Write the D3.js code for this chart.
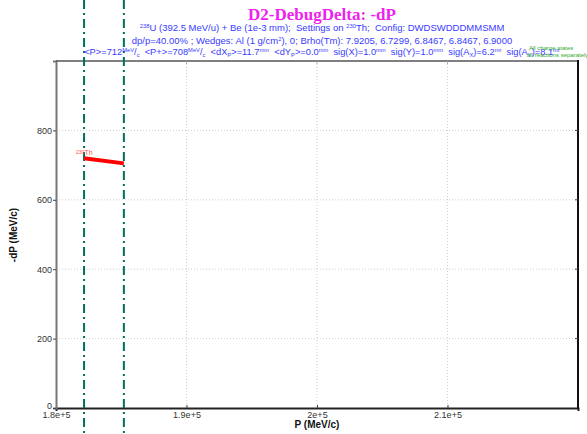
<!DOCTYPE html>
<html>
<head>
<meta charset="utf-8">
<script src="https://cdn.jsdelivr.net/npm/d3@7"></script>
<style>
  html, body { margin: 0; padding: 0; background: #fff; }
  svg { display: block; font-family: "Liberation Sans", Arial, sans-serif; }
</style>
</head>
<body>
<svg id="chart" width="587" height="434"></svg>
<script>
// Momentum loss of the 230Th fragment across the P acceptance
const pValues = [182150, 185200];
const dpValues = [720, 705];
const fragmentLabel = "230Th";
// Acceptance limits (dash-dot markers)
const limitValues = [182150, 185200];
const xTicks = [180000, 190000, 200000, 210000];
const xTickLabels = ["1.8e+5", "1.9e+5", "2e+5", "2.1e+5"];
const yTicks = [0, 200, 400, 600, 800];

const svg = d3.select("#chart");
const plotL = 56, plotR = 578, plotT = 61, plotB = 408;

const x = d3.scaleLinear().domain([180000, 220000]).range([plotL, plotR]);
const y = d3.scaleLinear().domain([0, 1000]).range([plotB, plotT]);

// dotted grid
const grid = svg.append("g");
grid.selectAll("line.gx").data(xTicks.slice(1)).join("line")
  .attr("x1", d => x(d)).attr("x2", d => x(d)).attr("y1", plotT).attr("y2", plotB)
  .attr("stroke", "#d0d0d0").attr("stroke-dasharray", "1,2");
grid.selectAll("line.gy").data(yTicks.slice(1)).join("line")
  .attr("x1", plotL).attr("x2", plotR).attr("y1", d => y(d)).attr("y2", d => y(d))
  .attr("stroke", "#d0d0d0").attr("stroke-dasharray", "1,2");

// axes
const xAxis = d3.axisBottom(x).tickValues(xTicks).tickSize(3)
  .tickFormat((d, i) => xTickLabels[i]);
const gx = svg.append("g").attr("transform", `translate(0,${plotB})`).call(xAxis);
gx.select(".domain").attr("stroke", "#222").attr("stroke-width", 2);
gx.selectAll(".tick line").attr("stroke", "#444").attr("transform", "translate(0,-3)");
gx.selectAll(".tick text").attr("font-size", 9).attr("fill", "#333").attr("dy", "0.4em")
  .attr("font-family", "Liberation Sans, Arial, sans-serif");

const yAxis = d3.axisLeft(y).tickValues(yTicks).tickSize(3);
const gy = svg.append("g").attr("transform", `translate(${plotL},0)`).call(yAxis);
gy.select(".domain").attr("stroke", "#777").attr("stroke-width", 2);
gy.selectAll(".tick line").attr("stroke", "#444");
gy.selectAll(".tick text").attr("font-size", 9).attr("fill", "#333").attr("x", -4)
  .attr("font-family", "Liberation Sans, Arial, sans-serif");
gy.selectAll(".tick").filter(d => d === 0).select("text").attr("dy", "0.1em");

// top and right frame
svg.append("line").attr("x1", plotL).attr("x2", plotR).attr("y1", plotT).attr("y2", plotT)
  .attr("stroke", "#555").attr("stroke-width", 1.5);
svg.append("line").attr("x1", plotR).attr("x2", plotR).attr("y1", plotT - 1).attr("y2", plotB + 1)
  .attr("stroke", "#111").attr("stroke-width", 2);
svg.append("g").selectAll("line").data(yTicks.slice(1)).join("line")
  .attr("x1", plotR - 3).attr("x2", plotR).attr("y1", d => y(d)).attr("y2", d => y(d))
  .attr("stroke", "#444");
svg.append("g").selectAll("line").data(xTicks.slice(1)).join("line")
  .attr("x1", d => x(d)).attr("x2", d => x(d)).attr("y1", plotT).attr("y2", plotT + 3)
  .attr("stroke", "#aaa");

// acceptance limits
svg.append("g").selectAll("line").data(limitValues).join("line")
  .attr("x1", d => x(d)).attr("x2", d => x(d)).attr("y1", 0).attr("y2", 434)
  .attr("stroke", "#00705a").attr("stroke-width", 2)
  .attr("stroke-dasharray", "9,4,2,4");

// data line
const line = d3.line().x(d => x(d[0])).y(d => y(d[1]));
svg.append("path").datum(pValues.map((p, i) => [p, dpValues[i]]))
  .attr("d", line).attr("fill", "none").attr("stroke", "#ff0000").attr("stroke-width", 4);

const fl = svg.append("text").attr("x", x(pValues[0]) - 8).attr("y", y(dpValues[0]) - 3)
  .attr("font-size", 7).attr("fill", "#ff5050");
fl.append("tspan").attr("font-size", 5).attr("dy", -1.5).text(fragmentLabel.slice(0, 3));
fl.append("tspan").attr("dy", 1.5).text(fragmentLabel.slice(3));

// titles
svg.append("text").attr("x", 322).attr("y", 20).attr("text-anchor", "middle")
  .attr("font-family", "Liberation Serif, Times New Roman, serif").attr("font-weight", "bold")
  .attr("font-size", 17).attr("fill", "#ee22ee").text("D2-DebugDelta: -dP");

const blue = "#3a3aff";
// a text line made of plain, superscript and subscript pieces
function richLine(yPos, parts, size) {
  const t = svg.append("text").attr("x", 322).attr("y", yPos).attr("text-anchor", "middle")
    .attr("font-size", size).attr("fill", blue).style("white-space", "pre");
  let shift = 0;
  parts.forEach(p => {
    let target = 0, txt = p, fs = size;
    if (typeof p !== "string") {
      txt = p.sup !== undefined ? p.sup : p.sub;
      target = p.sup !== undefined ? -size * 0.35 : size * 0.25;
      fs = size * 0.62;
    }
    t.append("tspan").attr("font-size", fs).attr("dy", target - shift).text(txt);
    shift = target;
  });
  return t;
}
richLine(31, [{sup: "238"}, "U (392.5 MeV/u) + Be (1e-3 mm);  Settings on ", {sup: "230"},
  "Th;  Config: DWDSWDDDMMSMM"], 9.5);
richLine(44, ["dp/p=40.00% ; Wedges: Al (1 g/cm", {sup: "2"}, "), 0; Brho(Tm): 7.9205, 6.7299, 6.8467, 6.8467, 6.9000"], 9.5);
richLine(55, ["<P>=712", {sup: "MeV"}, "/", {sub: "c"}, "  <P+>=708", {sup: "MeV"}, "/", {sub: "c"},
  "  <dX", {sub: "P"}, ">=11.7", {sup: "mm"}, "  <dY", {sub: "P"}, ">=0.0", {sup: "mm"},
  "  sig(X)=1.0", {sup: "mm"}, "  sig(Y)=1.0", {sup: "mm"}, "  sig(A", {sub: "X"}, ")=6.2", {sup: "mr"},
  "  sig(A", {sub: "Y"}, ")=8.1", {sup: "mr"}], 9.3);

// legend notes
svg.append("text").attr("x", 529).attr("y", 50).attr("font-size", 6).attr("fill", "#33aa33")
  .text("All charge states");
svg.append("text").attr("x", 527).attr("y", 57).attr("font-size", 6).attr("fill", "#33aa33")
  .text("all reactions separately");

// axis titles
svg.append("text").attr("x", 317).attr("y", 428).attr("text-anchor", "middle")
  .attr("font-size", 10).attr("font-weight", "bold").attr("fill", "#111").text("P (MeV/c)");
svg.append("text").attr("transform", "translate(17,235) rotate(-90)").attr("text-anchor", "middle")
  .attr("font-size", 10).attr("font-weight", "bold").attr("fill", "#111").text("-dP (MeV/c)");
</script>
</body>
</html>
